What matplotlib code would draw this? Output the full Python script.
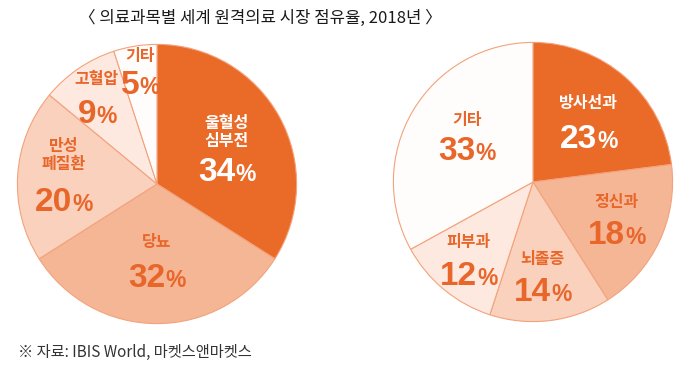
"""
의료과목별 세계 원격의료 시장 점유율 (2018년) 파이 차트
"""
import matplotlib
matplotlib.use('Agg')
import matplotlib.pyplot as plt
from matplotlib.transforms import offset_copy

plt.rcParams['font.family'] = ['Noto Sans CJK KR', 'DejaVu Sans']

# 데이터
left_labels = ['울혈성\n심부전', '당뇨', '만성\n폐질환', '고혈압', '기타']
left_values = [34, 32, 20, 9, 5]
right_labels = ['방사선과', '정신과', '뇌졸증', '피부과', '기타']
right_values = [23, 18, 14, 12, 33]

# 배색
DARK = '#ea6a28'
C2 = '#f5b696'
C3 = '#f9d1bd'
C4 = '#fde9e0'
C5 = '#fffdfb'
EDGE = '#f3a27c'
TXT = '#e8662a'

left_colors = [DARK, C2, C3, C4, C5]
right_colors = [DARK, C2, C3, C4, C5]

# 숫자 라벨 위치 (파이 반지름 단위) / 항목명 간격 (px)
left_pos = [(0.50, 0.11), (0.0, -0.65), (-0.67, -0.11), (-0.43, 0.52), (-0.12, 0.73)]
right_pos = [(0.40, 0.33), (0.60, -0.36), (0.07, -0.77), (-0.46, -0.65), (-0.47, 0.24)]
left_gap = [37, 33, 44, 32, 26]
right_gap = [33, 30, 30, 31, 28]

W, H = 694, 370
fig = plt.figure(figsize=(W / 100, H / 100), dpi=100)
fig.patch.set_facecolor('white')


def pie_axes(cx, cy, r):
    return fig.add_axes([(cx - r) / W, (H - cy - r) / H, 2 * r / W, 2 * r / H])


def draw_pie(ax, values, labels, colors, pos, gaps):
    ax.pie(values, colors=colors, startangle=90, counterclock=False,
           wedgeprops=dict(edgecolor=EDGE, linewidth=0.8))
    ax.set_xlim(-1.01, 1.01)
    ax.set_ylim(-1.01, 1.01)
    renderer = fig.canvas.get_renderer()
    for i, (lab, v, (px, py), g) in enumerate(zip(labels, values, pos, gaps)):
        c = 'white' if i == 0 else TXT
        tr = offset_copy(ax.transData, fig=fig, x=0, y=g, units='dots')
        ax.text(px, py, lab, transform=tr, ha='center', va='center', fontsize=11.5,
                color=c, fontweight='semibold', linespacing=1.15)
        # 숫자 + %
        tn = ax.text(px, py, str(v), ha='center', va='baseline', fontsize=24,
                     fontweight='bold', color=c, family=['Liberation Sans'])
        tp = ax.text(px, py, '%', ha='left', va='baseline', fontsize=16.5,
                     fontweight='bold', color=c, family=['Liberation Sans'])
        wn = tn.get_window_extent(renderer).width
        wp = tp.get_window_extent(renderer).width
        tn.set_transform(offset_copy(ax.transData, fig=fig, x=-wp / 2, y=-12, units='dots'))
        tp.set_transform(offset_copy(ax.transData, fig=fig, x=wn / 2 - wp / 2, y=-12, units='dots'))


ax1 = pie_axes(157, 184, 141)
draw_pie(ax1, left_values, left_labels, left_colors, left_pos, left_gap)
ax2 = pie_axes(533, 182, 141)
draw_pie(ax2, right_values, right_labels, right_colors, right_pos, right_gap)

# 제목
fig.text(260 / W, 1 - 18 / H, '〈 의료과목별 세계 원격의료 시장 점유율, 2018년 〉',
         ha='center', va='center', fontsize=12, color='#1a1a1a')

# 출처
fig.text(18 / W, 1 - 352 / H, '※ 자료: IBIS World, 마켓스앤마켓스',
         ha='left', va='center', fontsize=11, color='#333333')

fig.savefig('out.png', dpi=100, facecolor='white')
plt.close(fig)
